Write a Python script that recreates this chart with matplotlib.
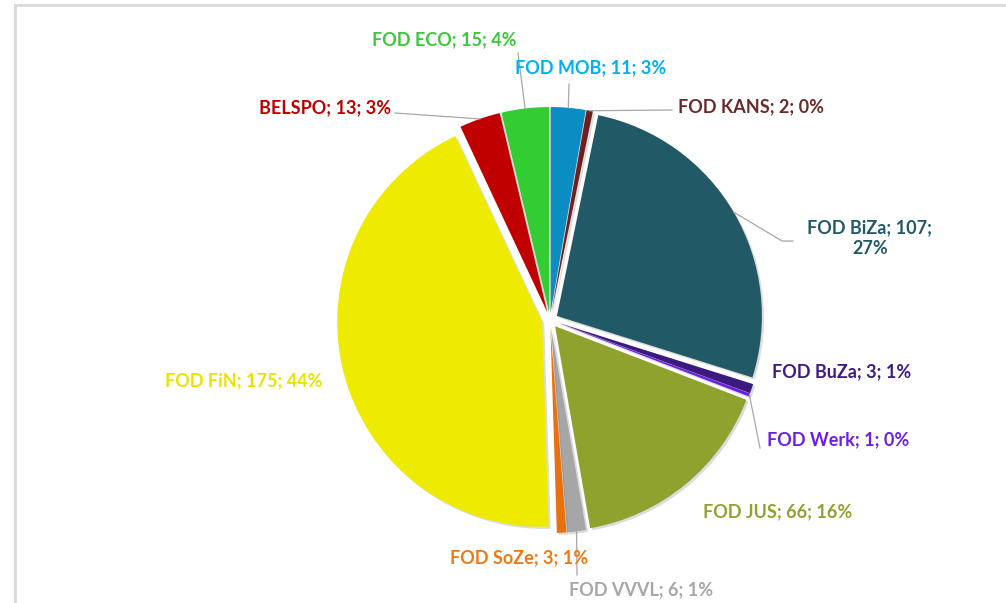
import numpy as np
import matplotlib
matplotlib.use('Agg')
import matplotlib.pyplot as plt
import matplotlib.patheffects as pe

# data (clockwise from 12 o'clock)
names = ['FOD MOB', 'FOD KANS', 'FOD BiZa', 'FOD BuZa', 'FOD Werk', 'FOD JUS',
         'FOD VVVL', 'FOD SoZe', 'FOD FiN', 'BELSPO', 'FOD ECO']
values = [11, 2, 107, 3, 1, 66, 6, 3, 175, 13, 15]
percents = ['3%', '0%', '27%', '1%', '0%', '16%', '1%', '1%', '44%', '3%', '4%']

slice_colors = ['#0B8DC4', '#6E2020', '#215967', '#3B1A80', '#6B1FE0', '#8FA22E',
                '#A6A6A6', '#E8700F', '#EEEB00', '#C00000', '#33CC33']
text_colors = ['#00B0F0', '#6B2A2A', '#215967', '#3F1C82', '#6A1FE8', '#8FA22E',
               '#A6A6A6', '#F07814', '#E8E400', '#C00000', '#3CC83C']

# label centres in pixel coords (y down), leader end points (None = no line)
label_pos = [(591, 68), (751, 107), (870, 238), (842, 372), (838, 440), (778, 512),
             (641, 590), (519, 558), (244, 381), (325, 108), (444, 40)]
leader_end = [[(569, 84)], [(672, 110)], [(782, 241), (793, 241)], None, [(760, 448)],
              None, [(577, 575)], None, None, [(395, 113)], [(518, 53)]]

W, H = 1006, 603
cx, cy = 550, 320
R = 205
gap = 8  # explode distance

fig = plt.figure(figsize=(W / 100, H / 100), dpi=100)
ax = fig.add_axes([0, 0, 1, 1])

# chart frame (top and left edges visible)
ax.plot([15, W], [H - 5, H - 5], color='#D9D9D9', lw=2, zorder=0)
ax.plot([15, 15], [H - 5, 0], color='#D9D9D9', lw=2, zorder=0)

wedges, _ = ax.pie(values, colors=slice_colors, startangle=90, counterclock=False,
                   radius=R, center=(cx, H - cy), explode=[gap] * len(values),
                   wedgeprops=dict(linewidth=0), frame=True)
ax.set_xlim(0, W)
ax.set_ylim(0, H)
ax.axis('off')
for w in wedges:
    w.set_path_effects([pe.SimplePatchShadow(offset=(1.5, -1.5), shadow_rgbFace='#888888', alpha=0.3),
                        pe.Normal()])

for i, w in enumerate(wedges):
    mid = np.deg2rad((w.theta1 + w.theta2) / 2)
    txt = f'{names[i]}; {values[i]}; {percents[i]}'
    if names[i] == 'FOD BiZa':
        txt = f'{names[i]}; {values[i]};\n{percents[i]}'
    lx, ly = label_pos[i]
    ax.text(lx, H - ly, txt, color=text_colors[i], fontsize=13, fontweight='bold',
            family=['Lato', 'DejaVu Sans'], ha='center', va='center', linespacing=1.3)
    if leader_end[i] is not None:
        rr = R + gap
        px = [cx + rr * np.cos(mid)]
        py = [H - cy + rr * np.sin(mid)]
        for (ex, ey) in leader_end[i]:
            px.append(ex)
            py.append(H - ey)
        ax.plot(px, py, color='#A6A6A6', lw=0.9, zorder=1)

fig.savefig('out.png', dpi=100)
